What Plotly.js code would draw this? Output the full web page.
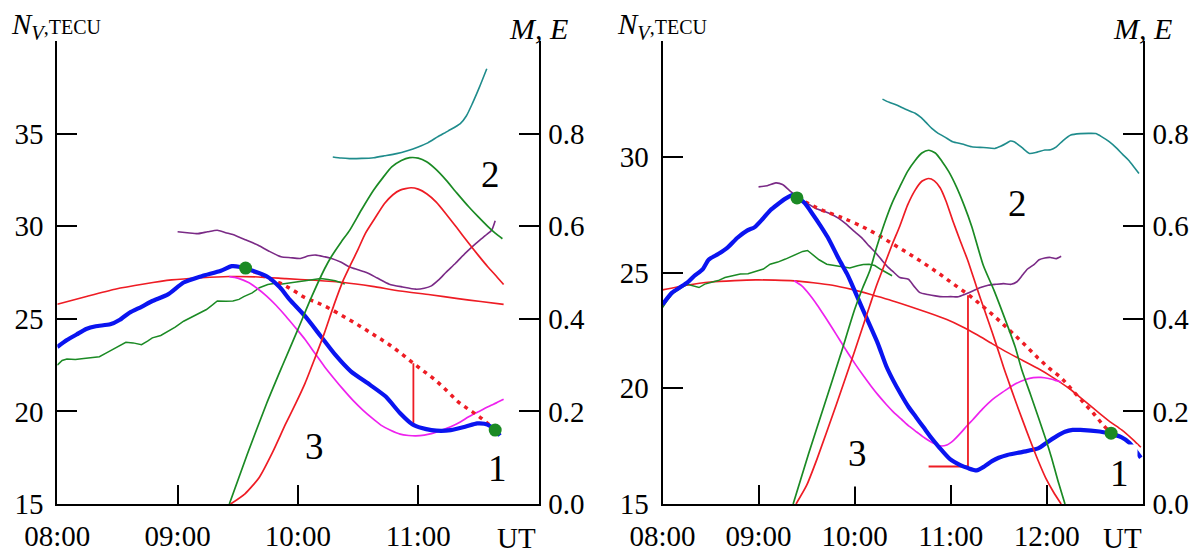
<!DOCTYPE html>
<html><head><meta charset="utf-8">
<script src="https://cdn.plot.ly/plotly-3.0.1.min.js"></script>
<style>html,body{margin:0;padding:0;background:#fff}#chart{width:1195px;height:554px}</style>
</head><body><div id="chart"></div>
<script>
// ---------- Left panel (A) ----------
const blueA_t = [8.0,8.08,8.16,8.24,8.32,8.44,8.52,8.60,8.70,8.79,8.92,9.05,9.20,9.36,9.45,9.52,9.60,9.74,9.85,9.93,10.06,10.19,10.31,10.44,10.60,10.73,10.85,10.95,11.03,11.11,11.19,11.27,11.39,11.49,11.55,11.60,11.64,11.68];
const blueA_n = [23.48,23.85,24.15,24.45,24.60,24.70,24.95,25.33,25.65,25.96,26.32,26.96,27.30,27.60,27.84,27.80,27.65,27.30,26.70,26.05,25.14,24.06,23.06,22.16,21.43,20.80,19.90,19.31,19.10,18.99,18.95,18.99,19.17,19.35,19.33,19.20,19.00,18.70];
const greenA_t = [8.0,8.04,8.08,8.15,8.22,8.30,8.35,8.42,8.48,8.53,8.57,8.63,8.70,8.75,8.79,8.86,8.92,8.98,9.05,9.12,9.18,9.24,9.29,9.33,9.40,9.46,9.51,9.55,9.62,9.68,9.75,9.81,9.87,9.93,10.0,10.06,10.13,10.19,10.25,10.31,10.36,10.39];
const greenA_n = [22.50,22.75,22.83,22.80,22.85,22.90,22.95,23.20,23.42,23.60,23.73,23.70,23.60,23.80,23.97,24.10,24.33,24.55,24.87,25.10,25.30,25.50,25.75,25.96,25.95,25.96,26.05,26.20,26.40,26.68,26.85,26.92,26.88,26.92,27.00,27.05,27.10,27.17,27.12,27.05,26.95,26.87];
const arcA_t = [8.0,8.25,8.48,8.72,8.95,9.20,9.43,9.67,9.90,10.14,10.38,10.62,10.85,11.10,11.33,11.52,11.71];
const arcA_n = [25.78,26.22,26.60,26.88,27.10,27.22,27.28,27.26,27.17,27.08,26.96,26.75,26.50,26.30,26.09,25.93,25.78];
const magA_t = [9.43,9.50,9.59,9.66,9.74,9.82,9.90,9.98,10.06,10.14,10.22,10.30,10.38,10.46,10.54,10.62,10.69,10.77,10.85,10.92,10.98,11.05,11.11,11.19,11.27,11.35,11.42,11.50,11.58,11.65,11.71];
const magA_n = [27.28,27.20,26.96,26.65,26.23,25.72,25.14,24.52,23.88,23.15,22.43,21.78,21.16,20.58,20.07,19.62,19.26,18.98,18.77,18.70,18.68,18.72,18.80,18.97,19.17,19.43,19.71,19.98,20.25,20.46,20.65];
const dotA_t = [9.56,9.65,9.75,9.87,9.97,10.06,10.15,10.25,10.40,10.54,10.65,10.76,10.86,10.96,11.05,11.14,11.24,11.33,11.41,11.49,11.56,11.64];
const dotA_n = [27.74,27.50,27.20,26.87,26.50,26.14,25.90,25.60,25.05,24.51,24.06,23.60,23.12,22.60,22.15,21.70,21.10,20.53,20.15,19.80,19.45,19.00];
const vertA_t = [10.96,10.96];
const vertA_n = [22.60,19.30];
const purpA_t = [9.0,9.08,9.17,9.25,9.33,9.40,9.48,9.57,9.67,9.76,9.86,9.94,10.02,10.09,10.15,10.22,10.28,10.36,10.43,10.50,10.57,10.66,10.76,10.87,10.98,11.05,11.11,11.17,11.23,11.31,11.39,11.45,11.51,11.56,11.61,11.64];
const purpA_n = [29.70,29.65,29.60,29.70,29.78,29.65,29.50,29.25,28.97,28.65,28.35,28.30,28.26,28.40,28.44,28.35,28.26,28.05,27.80,27.65,27.50,27.20,26.87,26.72,26.60,26.65,26.78,27.10,27.50,28.00,28.53,28.90,29.24,29.50,29.78,30.30];
const tealA_t = [10.29,10.36,10.43,10.53,10.63,10.72,10.82,10.91,11.0,11.08,11.16,11.25,11.35,11.40,11.45,11.51,11.57];
const tealA_n = [33.74,33.68,33.65,33.66,33.70,33.80,33.92,34.08,34.28,34.50,34.82,35.15,35.54,35.95,36.62,37.52,38.50];
const mA_t = [9.43,9.58,9.74,9.87,10.0,10.11,10.22,10.28,10.36,10.43,10.53,10.63,10.71,10.78,10.86,10.93,11.0,11.07,11.15,11.23,11.32,11.42,11.50,11.58,11.64,11.70];
const mA_v = [0.0,0.108,0.217,0.298,0.377,0.445,0.507,0.535,0.566,0.591,0.636,0.678,0.706,0.728,0.742,0.748,0.747,0.739,0.722,0.700,0.672,0.642,0.620,0.599,0.585,0.573];
const eA_t = [9.44,9.56,9.68,9.79,9.90,9.98,10.06,10.14,10.22,10.30,10.38,10.44,10.50,10.56,10.64,10.72,10.79,10.85,10.94,11.00,11.07,11.15,11.23,11.32,11.42,11.50,11.58,11.65,11.71];
const eA_v = [0.0,0.022,0.058,0.112,0.174,0.216,0.261,0.314,0.369,0.430,0.485,0.518,0.550,0.584,0.617,0.649,0.668,0.678,0.683,0.680,0.670,0.652,0.627,0.597,0.563,0.537,0.512,0.492,0.474];
const ptsA_t = [9.565,11.64];
const ptsA_n = [27.74,18.99];

// ---------- Right panel (B) ----------
const blueB_t = [8.0,8.1,8.18,8.26,8.33,8.42,8.48,8.58,8.68,8.78,8.88,8.96,9.04,9.12,9.20,9.28,9.36,9.40,9.48,9.56,9.64,9.72,9.84,9.92,9.96,10.08,10.24,10.33,10.40,10.48,10.56,10.64,10.72,10.80,10.88,10.99,11.10,11.18,11.27,11.35,11.43,11.50,11.59,11.75,11.91,12.0,12.10,12.19,12.27,12.35,12.55,12.66,12.78,12.86,12.98];
const blueB_n = [23.62,24.13,24.35,24.57,24.85,25.15,25.55,25.80,26.09,26.50,26.81,26.96,27.30,27.68,27.95,28.19,28.35,28.25,28.00,27.54,27.05,26.52,25.55,24.95,24.60,23.45,21.95,20.95,20.35,19.75,19.20,18.75,18.30,17.85,17.45,16.95,16.68,16.55,16.45,16.62,16.85,17.00,17.12,17.25,17.40,17.65,17.92,18.12,18.20,18.20,18.13,18.04,17.88,17.65,17.00];
const greenB_t = [8.0,8.05,8.1,8.18,8.26,8.32,8.38,8.44,8.50,8.58,8.65,8.73,8.81,8.89,8.97,9.05,9.12,9.20,9.28,9.37,9.46,9.51,9.56,9.63,9.71,9.79,9.87,9.95,10.03,10.09,10.15,10.21,10.27,10.33,10.39];
const greenB_n = [23.48,23.80,24.06,24.30,24.49,24.42,24.35,24.50,24.57,24.65,24.78,24.85,24.93,24.95,25.05,25.15,25.36,25.45,25.58,25.75,25.91,25.95,25.80,25.55,25.36,25.30,25.25,25.20,25.29,25.35,25.36,25.30,25.14,25.00,24.86];
const arcB_t = [8.0,8.25,8.5,8.75,8.97,9.17,9.37,9.57,9.77,9.97,10.16,10.36,10.56,10.76,10.96,11.12,11.27,11.43,11.59,11.75,11.91,12.07,12.23,12.38,12.54,12.66,12.78,12.90,12.98];
const arcB_n = [24.25,24.45,24.59,24.65,24.68,24.67,24.64,24.56,24.45,24.27,24.06,23.82,23.55,23.27,22.97,22.66,22.32,21.93,21.55,21.20,20.85,20.45,20.00,19.50,18.95,18.55,18.20,17.77,17.45];
const magB_t = [9.37,9.45,9.53,9.61,9.69,9.77,9.85,9.93,10.01,10.09,10.17,10.25,10.33,10.41,10.49,10.57,10.65,10.73,10.81,10.89,10.96,11.03,11.10,11.17,11.23,11.33,11.43,11.53,11.58,11.68,11.78,11.86,11.94,12.02,12.10,12.15];
const magB_n = [24.64,24.42,24.05,23.60,23.10,22.58,22.05,21.52,21.02,20.55,20.10,19.68,19.30,18.95,18.65,18.35,18.10,17.85,17.65,17.51,17.55,17.75,18.05,18.38,18.64,19.10,19.50,19.80,19.94,20.20,20.38,20.46,20.47,20.42,20.33,20.27];
const dotB_t = [9.40,9.52,9.63,9.75,9.85,9.91,10.07,10.23,10.39,10.55,10.71,10.88,11.03,11.19,11.31,11.43,11.55,11.67,11.79,11.91,12.03,12.15,12.27,12.39,12.49,12.58,12.67];
const dotB_n = [28.20,27.98,27.75,27.55,27.40,27.30,27.00,26.65,26.25,25.85,25.43,24.95,24.50,24.02,23.62,23.20,22.75,22.28,21.80,21.30,20.85,20.45,19.90,19.35,18.90,18.45,18.06];
const vertB_t = [10.77,11.18,11.18];
const vertB_n = [16.62,16.62,24.02];
const purpB_t = [9.0,9.09,9.18,9.25,9.32,9.38,9.44,9.52,9.60,9.68,9.75,9.83,9.91,9.99,10.07,10.15,10.23,10.29,10.35,10.41,10.47,10.56,10.62,10.68,10.76,10.84,10.92,11.0,11.08,11.15,11.23,11.31,11.39,11.47,11.55,11.63,11.69,11.75,11.80,11.87,11.92,11.98,12.04,12.10,12.15];
const purpB_n = [28.70,28.75,28.87,28.80,28.55,28.35,28.12,27.95,27.75,27.65,27.54,27.35,27.10,26.80,26.52,26.15,25.80,25.50,25.22,25.00,24.78,24.71,24.40,24.13,24.05,23.99,23.95,23.96,23.95,24.06,24.20,24.35,24.45,24.49,24.52,24.49,24.60,24.90,25.15,25.35,25.55,25.63,25.65,25.60,25.70];
const tealB_t = [10.29,10.36,10.43,10.53,10.63,10.69,10.75,10.81,10.87,10.94,11.02,11.12,11.22,11.34,11.46,11.52,11.58,11.62,11.66,11.74,11.82,11.90,11.98,12.04,12.10,12.17,12.25,12.35,12.45,12.51,12.57,12.65,12.73,12.79,12.85,12.91,12.96];
const tealB_n = [32.49,32.35,32.25,32.05,31.88,31.70,31.45,31.20,31.01,30.85,30.65,30.55,30.43,30.40,30.36,30.45,30.58,30.68,30.65,30.40,30.14,30.20,30.29,30.30,30.43,30.70,30.94,31.00,31.01,31.00,30.87,30.65,30.36,30.10,29.86,29.55,29.28];
const mB_t = [9.36,9.52,9.69,9.85,10.0,10.08,10.16,10.23,10.31,10.39,10.47,10.55,10.63,10.70,10.77,10.84,10.91,10.98,11.06,11.14,11.22,11.34,11.45,11.51,11.67,11.74,11.83,11.99,12.05,12.11,12.19];
const mB_v = [0.0,0.108,0.217,0.320,0.420,0.465,0.505,0.555,0.606,0.650,0.685,0.718,0.742,0.758,0.764,0.758,0.740,0.718,0.685,0.645,0.599,0.515,0.462,0.430,0.340,0.290,0.237,0.140,0.100,0.055,0.0];
const eB_t = [9.39,9.50,9.61,9.81,10.0,10.16,10.23,10.28,10.39,10.47,10.55,10.63,10.70,10.77,10.83,10.89,10.95,11.02,11.10,11.18,11.28,11.35,11.43,11.51,11.55,11.59,11.67,11.75,11.83,11.91,11.99,12.07,12.15];
const eB_v = [0.0,0.040,0.098,0.215,0.330,0.430,0.473,0.500,0.560,0.600,0.645,0.678,0.697,0.703,0.698,0.683,0.655,0.613,0.568,0.525,0.462,0.420,0.372,0.322,0.296,0.272,0.225,0.180,0.136,0.094,0.056,0.026,0.0];
const ptsB_t = [9.40,12.67];
const ptsB_n = [28.22,18.06];

// ---------- Axis ticks ----------
const xTicksA = [8,9,10,11];
const xTicksB = [8,9,10,11,12];
const xTickText = ['08:00','09:00','10:00','11:00','12:00'];
const nTicksA = [15,20,25,30,35];
const nTicksB = [15,20,25,30];
const meTicks = [0,0.2,0.4,0.6,0.8];
const meTickText = ['0.0','0.2','0.4','0.6','0.8'];

const C = {blue:'#0a14f0', red:'#ee1c24', green:'#1b8a24', mag:'#ee22ee', purp:'#7a2a86', teal:'#1f8c8c', dot:'#1b8a24'};

function ln(x,y,xa,ya,color,w,extra){
  return Object.assign({x:x,y:y,xaxis:xa,yaxis:ya,type:'scatter',mode:'lines',hoverinfo:'skip',
    line:{color:color,width:w,shape:'spline',smoothing:0.6}}, extra||{});
}
const traces = [
  // Left panel
  ln(arcA_t,arcA_n,'x','y',C.red,1.6),
  ln(tealA_t,tealA_n,'x','y',C.teal,1.6),
  ln(purpA_t,purpA_n,'x','y',C.purp,1.6),
  ln(greenA_t,greenA_n,'x','y',C.green,1.5,{line:{color:C.green,width:1.5}}),
  ln(mA_t,mA_v,'x','y2',C.green,1.7),
  ln(eA_t,eA_v,'x','y2',C.red,1.7),
  ln(magA_t,magA_n,'x','y',C.mag,1.7),
  ln(vertA_t,vertA_n,'x','y',C.red,1.8,{line:{color:C.red,width:1.8}}),
  ln(dotA_t,dotA_n,'x','y',C.red,3.5,{line:{color:C.red,width:3.5,dash:'4px,5px',shape:'spline'}}),
  ln(blueA_t,blueA_n,'x','y',C.blue,4.2),
  {x:ptsA_t,y:ptsA_n,xaxis:'x',yaxis:'y',type:'scatter',mode:'markers',hoverinfo:'skip',marker:{color:C.dot,size:13}},
  // Right panel
  ln(arcB_t,arcB_n,'x2','y3',C.red,1.6),
  ln(tealB_t,tealB_n,'x2','y3',C.teal,1.6),
  ln(purpB_t,purpB_n,'x2','y3',C.purp,1.6),
  ln(greenB_t,greenB_n,'x2','y3',C.green,1.5,{line:{color:C.green,width:1.5}}),
  ln(mB_t,mB_v,'x2','y4',C.green,1.7),
  ln(eB_t,eB_v,'x2','y4',C.red,1.7),
  ln(magB_t,magB_n,'x2','y3',C.mag,1.7),
  ln(vertB_t,vertB_n,'x2','y3',C.red,1.8,{line:{color:C.red,width:1.8}}),
  ln(dotB_t,dotB_n,'x2','y3',C.red,3.5,{line:{color:C.red,width:3.5,dash:'4px,5px',shape:'spline'}}),
  ln(blueB_t,blueB_n,'x2','y3',C.blue,4.2),
  {x:ptsB_t,y:ptsB_n,xaxis:'x2',yaxis:'y3',type:'scatter',mode:'markers',hoverinfo:'skip',marker:{color:C.dot,size:13}}
];

const F = 'Liberation Serif';
const tickFont = {family:F,size:29,color:'#000'};
const baseAx = {showline:true,linecolor:'#000',linewidth:2,ticks:'inside',ticklen:20,tickwidth:2,tickcolor:'#000',
  showgrid:false,zeroline:false,tickfont:tickFont,fixedrange:true};
const yBot = 50/554, yTop = 513/554;

const layout = {
  width:1195,height:554,margin:{l:0,r:0,t:0,b:0},paper_bgcolor:'#fff',plot_bgcolor:'rgba(0,0,0,0)',showlegend:false,
  font:{family:F,color:'#000'},
  xaxis:Object.assign({},baseAx,{domain:[57.3/1195,538.5/1195],range:[8,12],tickmode:'array',tickvals:xTicksA,ticktext:xTickText.slice(0,4),anchor:'y',ticklen:19,ticklabelstandoff:5}),
  yaxis:Object.assign({},baseAx,{domain:[yBot,yTop],range:[15,40],tickmode:'array',tickvals:nTicksA,ticktext:nTicksA.map(String),anchor:'x',ticklabelstandoff:6}),
  yaxis2:Object.assign({},baseAx,{domain:[yBot,yTop],range:[0,1],overlaying:'y',side:'right',anchor:'x',tickmode:'array',tickvals:meTicks,ticktext:meTickText,ticklabelstandoff:2}),
  xaxis2:Object.assign({},baseAx,{domain:[662.5/1195,1142.8/1195],range:[8,13],tickmode:'array',tickvals:xTicksB,ticktext:xTickText,anchor:'y3',ticklen:19,ticklabelstandoff:5}),
  yaxis3:Object.assign({},baseAx,{domain:[yBot,yTop],range:[15,35],tickmode:'array',tickvals:nTicksB,ticktext:nTicksB.map(String),anchor:'x2',ticklabelstandoff:6}),
  yaxis4:Object.assign({},baseAx,{domain:[yBot,yTop],range:[0,1],overlaying:'y3',side:'right',anchor:'x2',tickmode:'array',tickvals:meTicks,ticktext:meTickText,ticklabelstandoff:2}),
  annotations:[
    {text:'2',x:11.60,y:32.8,xref:'x',yref:'y',showarrow:false,font:{family:F,size:37,color:'#000'}},
    {text:'3',x:10.14,y:18.08,xref:'x',yref:'y',showarrow:false,font:{family:F,size:37,color:'#000'},bgcolor:'#fff',borderpad:10},
    {text:'1',x:11.655,y:16.9,xref:'x',yref:'y',showarrow:false,font:{family:F,size:37,color:'#000'},bgcolor:'#fff',borderpad:8},
    {text:'2',x:11.70,y:27.96,xref:'x2',yref:'y3',showarrow:false,font:{family:F,size:37,color:'#000'}},
    {text:'3',x:10.03,y:17.2,xref:'x2',yref:'y3',showarrow:false,font:{family:F,size:37,color:'#000'},bgcolor:'#fff',borderpad:12},
    {text:'1',x:12.76,y:16.3,xref:'x2',yref:'y3',showarrow:false,font:{family:F,size:37,color:'#000'},bgcolor:'#fff',borderpad:8},
    {text:'UT',x:11.82,y:16/554,xref:'x',yref:'paper',yanchor:'middle',showarrow:false,font:{family:F,size:29,color:'#000'}},
    {text:'UT',x:12.79,y:16/554,xref:'x2',yref:'paper',yanchor:'middle',showarrow:false,font:{family:F,size:29,color:'#000'}},
    {text:'<i>N</i><sub><i>V</i></sub><span style="font-size:20px">,TECU</span>',x:56/1195,y:(554-26)/554,xref:'paper',yref:'paper',xanchor:'center',yanchor:'middle',showarrow:false,font:{family:F,size:29,color:'#000'}},
    {text:'<i>N</i><sub><i>V</i></sub><span style="font-size:20px">,TECU</span>',x:662/1195,y:(554-26)/554,xref:'paper',yref:'paper',xanchor:'center',yanchor:'middle',showarrow:false,font:{family:F,size:29,color:'#000'}},
    {text:'<i>M, E</i>',x:538/1195,y:(554-28)/554,xref:'paper',yref:'paper',xanchor:'center',yanchor:'middle',showarrow:false,font:{family:F,size:30,color:'#000'}},
    {text:'<i>M, E</i>',x:1142/1195,y:(554-28)/554,xref:'paper',yref:'paper',xanchor:'center',yanchor:'middle',showarrow:false,font:{family:F,size:30,color:'#000'}}
  ]
};
Plotly.newPlot('chart',traces,layout,{staticPlot:true,displayModeBar:false});
</script></body></html>
